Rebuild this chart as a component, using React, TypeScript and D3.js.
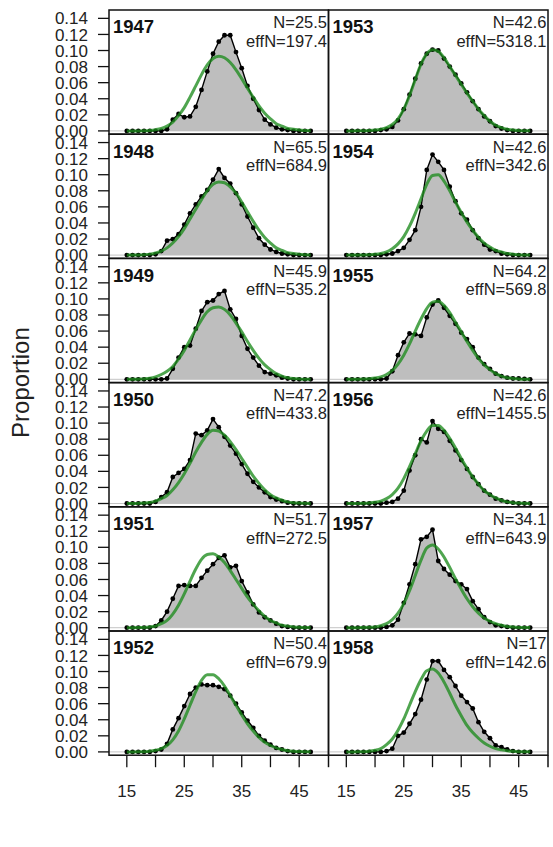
import React, { useRef, useEffect } from "react";
import * as d3 from "d3";

// length bins (cm)
const lengths = [15, 16, 17, 18, 19, 20, 21, 22, 23, 24, 25, 26, 27, 28, 29, 30, 31, 32, 33, 34, 35, 36, 37, 38, 39, 40, 41, 42, 43, 44, 45, 46, 47];

const years = [1947, 1948, 1949, 1950, 1951, 1952, 1953, 1954, 1955, 1956, 1957, 1958];
const nLabels = ["25.5", "65.5", "45.9", "47.2", "51.7", "50.4", "42.6", "42.6", "64.2", "42.6", "34.1", "17"];
const effNLabels = ["197.4", "684.9", "535.2", "433.8", "272.5", "679.9", "5318.1", "342.6", "569.8", "1455.5", "643.9", "142.6"];

// observed proportions at length
const obs1947 = [0, 0, 0, 0, 0, 0, 0, 0.002, 0.014, 0.021, 0.017, 0.018, 0.030, 0.051, 0.074, 0.096, 0.111, 0.119, 0.119, 0.098, 0.078, 0.056, 0.040, 0.026, 0.014, 0.008, 0.004, 0.002, 0.001, 0, 0, 0, 0];
const obs1948 = [0, 0, 0, 0, 0, 0.001, 0.005, 0.018, 0.020, 0.026, 0.038, 0.052, 0.063, 0.073, 0.081, 0.094, 0.107, 0.096, 0.089, 0.077, 0.063, 0.048, 0.034, 0.021, 0.013, 0.007, 0.004, 0.002, 0.001, 0, 0, 0, 0];
const obs1949 = [0, 0, 0, 0, 0, 0, 0, 0.001, 0.013, 0.027, 0.040, 0.042, 0.063, 0.085, 0.096, 0.098, 0.106, 0.110, 0.087, 0.075, 0.054, 0.038, 0.027, 0.017, 0.009, 0.007, 0.005, 0.002, 0.001, 0, 0, 0, 0];
const obs1950 = [0, 0, 0, 0, 0, 0.002, 0.008, 0.014, 0.033, 0.038, 0.043, 0.054, 0.087, 0.085, 0.091, 0.105, 0.095, 0.083, 0.072, 0.062, 0.049, 0.037, 0.027, 0.020, 0.014, 0.008, 0.005, 0.003, 0.001, 0, 0, 0, 0];
const obs1951 = [0, 0, 0, 0, 0, 0.002, 0.009, 0.020, 0.036, 0.052, 0.053, 0.052, 0.052, 0.062, 0.071, 0.079, 0.087, 0.090, 0.075, 0.077, 0.058, 0.044, 0.029, 0.019, 0.013, 0.009, 0.005, 0.002, 0.001, 0, 0, 0, 0];
const obs1952 = [0, 0, 0, 0, 0, 0.001, 0.003, 0.010, 0.028, 0.042, 0.057, 0.072, 0.080, 0.084, 0.083, 0.083, 0.081, 0.078, 0.070, 0.060, 0.049, 0.039, 0.030, 0.020, 0.014, 0.009, 0.005, 0.003, 0.001, 0, 0, 0, 0];
const obs1953 = [0, 0, 0, 0, 0, 0, 0.001, 0.002, 0.005, 0.013, 0.027, 0.045, 0.065, 0.084, 0.096, 0.101, 0.100, 0.090, 0.080, 0.070, 0.059, 0.048, 0.037, 0.027, 0.018, 0.012, 0.006, 0.003, 0.001, 0, 0, 0, 0];
const obs1954 = [0, 0, 0, 0, 0, 0, 0, 0.001, 0.002, 0.005, 0.009, 0.019, 0.031, 0.060, 0.106, 0.125, 0.116, 0.106, 0.085, 0.067, 0.052, 0.044, 0.031, 0.021, 0.013, 0.007, 0.005, 0.002, 0.001, 0, 0, 0, 0];
const obs1955 = [0, 0, 0, 0, 0, 0, 0, 0.001, 0.010, 0.030, 0.046, 0.057, 0.056, 0.054, 0.077, 0.093, 0.098, 0.089, 0.079, 0.069, 0.058, 0.050, 0.040, 0.027, 0.019, 0.013, 0.007, 0.004, 0.002, 0.001, 0.001, 0.0005, 0];
const obs1956 = [0, 0, 0, 0, 0, 0, 0, 0.001, 0.002, 0.006, 0.016, 0.041, 0.060, 0.080, 0.076, 0.1025, 0.093, 0.089, 0.078, 0.066, 0.054, 0.043, 0.033, 0.024, 0.016, 0.011, 0.006, 0.004, 0.002, 0.001, 0, 0, 0];
const obs1957 = [0, 0, 0, 0, 0, 0, 0, 0.001, 0.003, 0.010, 0.031, 0.054, 0.079, 0.110, 0.113, 0.122, 0.083, 0.073, 0.066, 0.058, 0.054, 0.048, 0.033, 0.023, 0.013, 0.007, 0.003, 0.002, 0.001, 0, 0, 0, 0];
const obs1958 = [0, 0, 0, 0, 0, 0, 0, 0.001, 0.004, 0.020, 0.024, 0.035, 0.047, 0.065, 0.090, 0.113, 0.113, 0.102, 0.093, 0.082, 0.070, 0.062, 0.054, 0.037, 0.025, 0.017, 0.008, 0.006, 0.003, 0.001, 0, 0, 0];

// expected (fitted) proportions at length
const exp1947 = [0, 0, 0, 0.0002, 0.0006, 0.0015, 0.003, 0.006, 0.011, 0.019, 0.029, 0.042, 0.056, 0.070, 0.082, 0.090, 0.093, 0.091, 0.085, 0.076, 0.065, 0.053, 0.042, 0.031, 0.022, 0.015, 0.009, 0.006, 0.003, 0.002, 0.001, 0.0005, 0.0002];
const exp1948 = [0, 0, 0.0002, 0.0005, 0.0012, 0.0027, 0.005, 0.009, 0.015, 0.023, 0.033, 0.045, 0.057, 0.069, 0.080, 0.088, 0.091, 0.090, 0.085, 0.077, 0.066, 0.054, 0.042, 0.031, 0.022, 0.015, 0.009, 0.006, 0.003, 0.002, 0.001, 0.0005, 0.0002];
const exp1949 = [0, 0, 0.0002, 0.0005, 0.0012, 0.003, 0.006, 0.010, 0.016, 0.025, 0.036, 0.049, 0.062, 0.074, 0.084, 0.089, 0.090, 0.087, 0.080, 0.070, 0.059, 0.047, 0.036, 0.026, 0.018, 0.012, 0.007, 0.004, 0.002, 0.001, 0.0005, 0.0002, 0.0001];
const exp1950 = [0, 0, 0.0002, 0.0005, 0.0012, 0.003, 0.006, 0.010, 0.017, 0.026, 0.037, 0.050, 0.064, 0.076, 0.086, 0.091, 0.090, 0.085, 0.077, 0.067, 0.056, 0.045, 0.034, 0.025, 0.017, 0.011, 0.007, 0.004, 0.002, 0.001, 0.0005, 0.0002, 0.0001];
const exp1951 = [0, 0, 0.0001, 0.0004, 0.001, 0.002, 0.005, 0.009, 0.017, 0.028, 0.042, 0.058, 0.073, 0.085, 0.091, 0.092, 0.088, 0.081, 0.071, 0.060, 0.049, 0.038, 0.029, 0.021, 0.014, 0.009, 0.006, 0.003, 0.002, 0.001, 0.0005, 0.0002, 0.0001];
const exp1952 = [0, 0, 0.0001, 0.0003, 0.0008, 0.002, 0.004, 0.008, 0.015, 0.026, 0.041, 0.058, 0.075, 0.089, 0.096, 0.096, 0.091, 0.082, 0.070, 0.058, 0.046, 0.035, 0.026, 0.018, 0.012, 0.008, 0.005, 0.003, 0.0015, 0.0008, 0.0004, 0.0002, 0.0001];
const exp1953 = [0, 0, 0.0001, 0.0002, 0.0005, 0.001, 0.002, 0.004, 0.008, 0.015, 0.027, 0.044, 0.064, 0.083, 0.096, 0.101, 0.099, 0.091, 0.080, 0.069, 0.058, 0.047, 0.037, 0.027, 0.019, 0.012, 0.007, 0.004, 0.002, 0.001, 0.0005, 0.0002, 0.0001];
const exp1954 = [0, 0, 0, 0.0002, 0.0005, 0.001, 0.002, 0.004, 0.008, 0.014, 0.023, 0.036, 0.052, 0.070, 0.088, 0.099, 0.100, 0.092, 0.080, 0.066, 0.053, 0.041, 0.031, 0.022, 0.015, 0.010, 0.006, 0.004, 0.002, 0.001, 0.0005, 0.0002, 0.0001];
const exp1955 = [0, 0, 0.0001, 0.0003, 0.0007, 0.0015, 0.003, 0.006, 0.011, 0.019, 0.030, 0.044, 0.060, 0.075, 0.088, 0.096, 0.097, 0.092, 0.083, 0.071, 0.059, 0.047, 0.036, 0.026, 0.018, 0.012, 0.007, 0.004, 0.002, 0.001, 0.0005, 0.0002, 0.0001];
const exp1956 = [0, 0, 0.0001, 0.0003, 0.0007, 0.0015, 0.003, 0.006, 0.011, 0.019, 0.031, 0.046, 0.062, 0.078, 0.090, 0.097, 0.097, 0.091, 0.081, 0.069, 0.056, 0.044, 0.033, 0.024, 0.016, 0.011, 0.007, 0.004, 0.002, 0.001, 0.0005, 0.0002, 0.0001];
const exp1957 = [0, 0, 0, 0.0002, 0.0005, 0.001, 0.0025, 0.005, 0.010, 0.018, 0.030, 0.046, 0.065, 0.084, 0.099, 0.103, 0.098, 0.088, 0.075, 0.061, 0.048, 0.036, 0.026, 0.018, 0.012, 0.008, 0.005, 0.003, 0.0015, 0.0008, 0.0004, 0.0002, 0.0001];
const exp1958 = [0, 0, 0.0001, 0.0003, 0.0008, 0.002, 0.004, 0.009, 0.016, 0.027, 0.041, 0.058, 0.075, 0.090, 0.101, 0.103, 0.098, 0.087, 0.073, 0.058, 0.045, 0.033, 0.024, 0.017, 0.011, 0.007, 0.004, 0.0025, 0.0013, 0.0007, 0.0003, 0.0002, 0.0001];

const observed = [obs1947, obs1948, obs1949, obs1950, obs1951, obs1952, obs1953, obs1954, obs1955, obs1956, obs1957, obs1958];
const expected = [exp1947, exp1948, exp1949, exp1950, exp1951, exp1952, exp1953, exp1954, exp1955, exp1956, exp1957, exp1958];

const yTicks = [0, 0.02, 0.04, 0.06, 0.08, 0.1, 0.12, 0.14];
const xTicks = [15, 20, 25, 30, 35, 40, 45];
const xTickLabels = [15, 25, 35, 45];

const App = () => {
    const svgRef = useRef<SVGSVGElement | null>(null);

    useEffect(() => {
        const width = 553;
        const height = 847;
        const font = "'Liberation Sans', Arial, Helvetica, sans-serif";
        const colEdges = [[109, 328.5], [328.5, 548]];
        const top0 = 10;
        const rowH = 124.2;
        const nRows = 6;

        const svg = d3.select(svgRef.current);
        svg.selectAll("*").remove();
        svg.attr("width", width).attr("height", height);

        years.forEach((year, i) => {
            const col = Math.floor(i / nRows);
            const row = i % nRows;
            const [left, right] = colEdges[col];
            const top = top0 + row * rowH;
            const bottom = top + rowH;

            const x = d3.scaleLinear().domain([11.9, 50.1]).range([left, right]);
            const y = d3.scaleLinear().domain([-0.0041, 0.1504]).range([bottom, top]);

            const obs = observed[i].map((v, k) => ({ len: lengths[k], v }));
            const fit = expected[i].map((v, k) => ({ len: lengths[k], v }));

            const g = svg.append("g");

            // zero line
            g.append("line")
                .attr("x1", left).attr("x2", right)
                .attr("y1", y(0)).attr("y2", y(0))
                .attr("stroke", "#c4c4c4")
                .attr("stroke-width", 1);

            const area = d3.area<{ len: number; v: number }>()
                .x(d => x(d.len))
                .y0(y(0))
                .y1(d => y(d.v));

            g.append("path")
                .attr("d", area(obs))
                .attr("fill", "#bebebe");

            const line = d3.line<{ len: number; v: number }>()
                .x(d => x(d.len))
                .y(d => y(d.v));

            g.append("path")
                .attr("d", line(obs))
                .attr("fill", "none")
                .attr("stroke", "#000")
                .attr("stroke-width", 1.4);

            g.selectAll("circle")
                .data(obs)
                .enter()
                .append("circle")
                .attr("cx", d => x(d.len))
                .attr("cy", d => y(d.v))
                .attr("r", 2.4)
                .attr("fill", "#000");

            // fitted curve on top
            g.append("path")
                .attr("d", line.curve(d3.curveMonotoneX)(fit))
                .attr("fill", "none")
                .attr("stroke", "#1e8c1e")
                .attr("stroke-opacity", 0.78)
                .attr("stroke-width", 3);

            // box
            g.append("rect")
                .attr("x", left).attr("y", top)
                .attr("width", right - left).attr("height", rowH)
                .attr("fill", "none")
                .attr("stroke", "#111")
                .attr("stroke-width", 1.5);

            g.append("text")
                .attr("x", left + 4)
                .attr("y", top + 23.3)
                .attr("font-family", font)
                .attr("font-weight", "bold")
                .attr("font-size", 18.5)
                .attr("fill", "#111")
                .text(year);

            g.append("text")
                .attr("x", right - 1.5)
                .attr("y", top + 18.3)
                .attr("text-anchor", "end")
                .attr("font-family", font)
                .attr("font-size", 16.5)
                .attr("fill", "#222")
                .text("N=" + nLabels[i]);

            g.append("text")
                .attr("x", right - 1.5)
                .attr("y", top + 36.7)
                .attr("text-anchor", "end")
                .attr("font-family", font)
                .attr("font-size", 16.5)
                .attr("fill", "#222")
                .text("effN=" + effNLabels[i]);

            // y axis on left column
            if (col === 0) {
                yTicks.forEach(t => {
                    g.append("line")
                        .attr("x1", left - 11).attr("x2", left)
                        .attr("y1", y(t)).attr("y2", y(t))
                        .attr("stroke", "#111")
                        .attr("stroke-width", 1.3);
                    g.append("text")
                        .attr("x", 88)
                        .attr("y", y(t))
                        .attr("dy", "0.36em")
                        .attr("text-anchor", "end")
                        .attr("font-family", font)
                        .attr("font-size", 17)
                        .attr("fill", "#222")
                        .text(d3.format(".2f")(t));
                });
            }

            // x axis on bottom row
            if (row === nRows - 1) {
                xTicks.forEach(t => {
                    g.append("line")
                        .attr("x1", x(t)).attr("x2", x(t))
                        .attr("y1", bottom).attr("y2", bottom + 12)
                        .attr("stroke", "#111")
                        .attr("stroke-width", 1.3);
                });
                xTickLabels.forEach(t => {
                    g.append("text")
                        .attr("x", x(t))
                        .attr("y", bottom + 42)
                        .attr("text-anchor", "middle")
                        .attr("font-family", font)
                        .attr("font-size", 17)
                        .attr("fill", "#222")
                        .text(t);
                });
                if (col === 1) {
                    // column dividers run down past the bottom frame
                    [left, right].forEach(xe => {
                        g.append("line")
                            .attr("x1", xe).attr("x2", xe)
                            .attr("y1", bottom).attr("y2", bottom + 12)
                            .attr("stroke", "#111")
                            .attr("stroke-width", 1.5);
                    });
                }
            }
        });

        svg.append("text")
            .attr("transform", `translate(29, ${top0 + (nRows * rowH) / 2}) rotate(-90)`)
            .attr("text-anchor", "middle")
            .attr("font-family", font)
            .attr("font-size", 24)
            .attr("fill", "#222")
            .text("Proportion");
    }, []);

    return (
        <svg ref={svgRef} style={{ position: "absolute", left: 0, top: 0, background: "#fff" }}></svg>
    );
};

export default App;
